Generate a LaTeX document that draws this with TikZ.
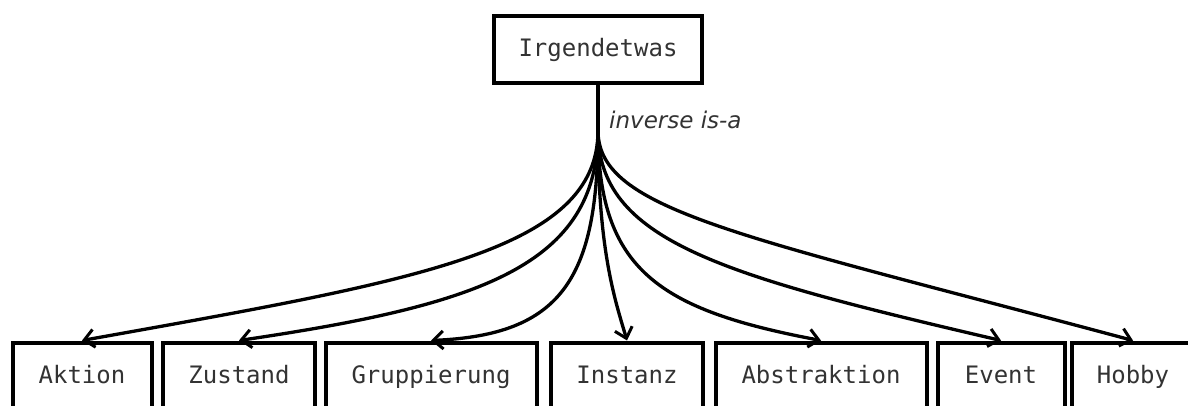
\documentclass[tikz,border=0pt]{standalone}
\usepackage{fontspec}
\setmonofont{DejaVu Sans Mono}
\newfontfamily\labelfont{DejaVu Sans}
\usetikzlibrary{arrows.meta}
\tikzset{
  conceptbox/.style={draw, line width=4pt, inner sep=0pt, minimum height=67pt,
    text height=18pt, text depth=4pt,
    font=\ttfamily\fontsize{24}{28}\selectfont, text=black!80},
  relarrow/.style={line width=3.3pt, -{Straight Barb[length=10pt,width=18pt,line width=3pt]}},
}
\begin{document}
\begin{tikzpicture}[x=1pt,y=-1pt]
  \useasboundingbox (0,0) rectangle (1188,406);
  \clip (0,0) rectangle (1188,406);
  \fill[white] (0,0) rectangle (1188,406);

  % root concept
  \node[conceptbox, minimum width=208pt] (root) at (598,50) {Irgendetwas};

  % subordinate concepts (their lower halves run off the page)
  \node[conceptbox, minimum width=139pt] (aktion) at (82,376) {Aktion};
  \node[conceptbox, minimum width=152pt] (zustand) at (239,376) {Zustand};
  \node[conceptbox, minimum width=211pt] (grupp) at (431,376) {Gruppierung};
  \node[conceptbox, minimum width=152pt] (instanz) at (627,376) {Instanz};
  \node[conceptbox, minimum width=211pt] (abstr) at (821,376) {Abstraktion};
  \node[conceptbox, minimum width=127pt] (event) at (1001,376) {Event};
  \node[conceptbox, minimum width=122pt] (hobby) at (1133,376) {Hobby};

  % relation label
  \node[anchor=base west, font=\labelfont\itshape\fontsize{23}{26}\selectfont, text=black!80, inner sep=0pt] (rel) at (609,129) {inverse is-a};

  % inverse is-a edges: a shared trunk below the root, then fanning out
  \draw[relarrow] (root.south) -- ++(0,45) .. controls +(0,120) and (420,280) .. (aktion.north);
  \draw[relarrow] (root.south) -- ++(0,45) .. controls +(0,135) and (480,305) .. (zustand.north);
  \draw[relarrow] (root.south) -- ++(0,45) .. controls +(0,150) and (560,335) .. (grupp.north);
  \draw[relarrow] (root.south) -- ++(0,45) .. controls +(0,120) and (615,300) .. (instanz.north);
  \draw[relarrow] (root.south) -- ++(0,45) .. controls +(0,140) and (660,310) .. (abstr.north);
  \draw[relarrow] (root.south) -- ++(0,45) .. controls +(0,110) and (720,275) .. (event.north);
  \draw[relarrow] (root.south) -- ++(0,45) .. controls +(0,80) and (740,235) .. (hobby.north);
\end{tikzpicture}
\end{document}
